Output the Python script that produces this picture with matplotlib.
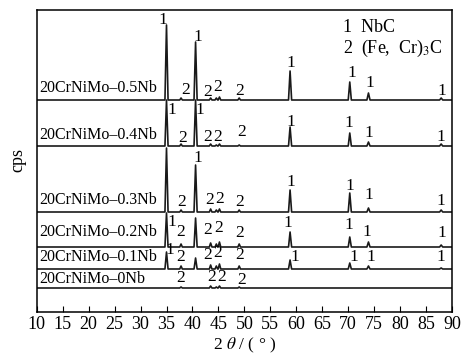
import matplotlib.pyplot as plt

plt.rcParams['font.family'] = ['Liberation Serif', 'DejaVu Serif']
plt.rcParams['mathtext.fontset'] = 'stix'

# XRD traces, stacked with vertical offsets (arbitrary intensity units)
samples = ['20CrNiMo–0.5Nb', '20CrNiMo–0.4Nb', '20CrNiMo–0.3Nb',
           '20CrNiMo–0.2Nb', '20CrNiMo–0.1Nb', '20CrNiMo–0Nb']
offsets = [212, 166, 100, 65, 43, 24]

# NbC peaks (label 1)
nbc_pos = [35.0, 40.6, 58.8, 70.3, 73.9, 87.9]
nbc_height = [
    [75, 58, 29, 18, 7, 2],
    [46, 46, 19, 13, 4, 2],
    [64, 47, 22, 19, 4, 2],
    [34, 29, 15, 10, 5, 2],
    [17, 11, 9, 6, 3, 1],
    [0, 0, 0, 0, 0, 0],
]

# (Fe,Cr)3C peaks (label 2)
fe3c_pos = [37.8, 43.5, 44.6, 45.2, 49.0]
fe3c_height = [
    [2, 2, 2, 3, 2],
    [2, 2, 1, 2, 1],
    [2, 3, 2, 3, 2],
    [3, 4, 3, 5, 3],
    [3, 4, 3, 5, 3],
    [1, 2, 1, 2, 1],
]

# label positions (2theta, intensity) for peak markers
labels_1 = [
    [(34.2, 292), (41.0, 275), (59.0, 249), (70.6, 239), (74.1, 229), (88.1, 221)],
    [(36.0, 202), (41.4, 202), (59.0, 190), (70.1, 189), (73.9, 179), (87.9, 175)],
    [(41.0, 154), (59.0, 130), (70.4, 126), (73.9, 117), (87.9, 111)],
    [(36.1, 90), (58.3, 89), (70.1, 87), (73.5, 80), (88.1, 79)],
    [(35.6, 62), (59.7, 55), (71.1, 55), (74.3, 55), (87.9, 55)],
    [],
]
labels_2 = [
    [(38.7, 222), (43.0, 220), (44.9, 225), (49.1, 221)],
    [(38.1, 174), (42.9, 175), (44.9, 175), (49.4, 180)],
    [(37.9, 110), (43.3, 112), (45.3, 113), (49.1, 110)],
    [(37.8, 80), (42.9, 82), (45.1, 84), (49.1, 79)],
    [(37.8, 55), (43.0, 57), (44.9, 59), (49.1, 57)],
    [(37.8, 34), (43.6, 35), (45.6, 35), (49.4, 32)],
]
name_y = [224, 177, 112, 80, 55, 33]


def trace(base, nbc_h, fe_h):
    peaks = [(p, h, 0.3) for p, h in zip(nbc_pos, nbc_h) if h > 0]
    peaks += [(p, h, 0.25) for p, h in zip(fe3c_pos, fe_h) if h > 0]
    peaks.sort()
    xs, ys = [10], [base]
    for p, h, w in peaks:
        xs += [p - w, p, p + w]
        ys += [base, base + h, base]
    xs.append(90)
    ys.append(base)
    return xs, ys


fig = plt.figure(figsize=(4.67, 3.56), dpi=100)
ax = fig.add_axes([0.0786, 0.1236, 0.8894, 0.8483])

for i, name in enumerate(samples):
    xs, ys = trace(offsets[i], nbc_height[i], fe3c_height[i])
    ax.plot(xs, ys, color='#1a1a1a', lw=1.2)
    ax.text(10.5, name_y[i], name, fontsize=11.5, va='center', ha='left')
    for x, y in labels_1[i]:
        ax.text(x, y, '1', fontsize=12.5, ha='center', va='center')
    for x, y in labels_2[i]:
        ax.text(x, y, '2', fontsize=12.5, ha='center', va='center')

ax.text(68.9, 285, '1  NbC', fontsize=13, va='center')
ax.text(68.9, 264, '2  (Fe,  Cr)$_3$C', fontsize=13, va='center')

ax.set_xlim(10, 90)
ax.set_ylim(0, 302)
ax.set_xticks(range(10, 91, 5))
ax.set_yticks([])
ax.tick_params(axis='x', direction='in', length=4, pad=3, labelsize=13)
for s in ax.spines.values():
    s.set_linewidth(1.1)

fig.text(18 / 467, 1 - 160 / 356, 'cps', rotation=90, fontsize=13,
         ha='center', va='center')
fig.text(245 / 467, 1 - 345 / 356, r'2 $\theta$ / ( ° )', fontsize=12.5,
         ha='center', va='center')

fig.savefig('out.png', dpi=100)
